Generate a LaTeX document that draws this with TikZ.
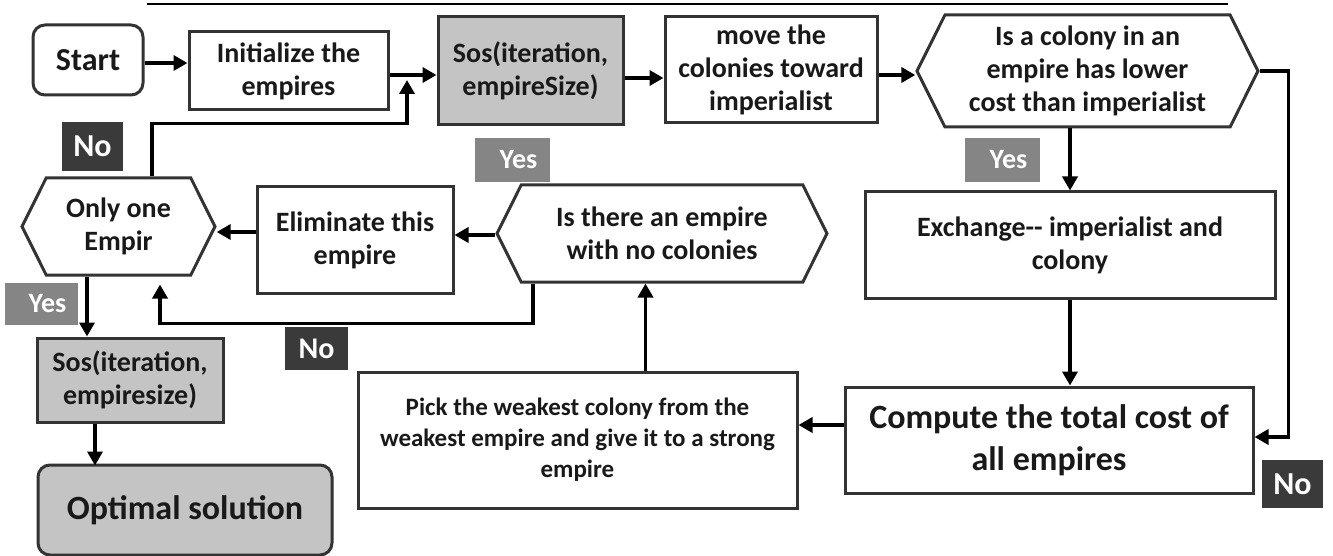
\documentclass[tikz,border=0pt]{standalone}
\usepackage{fontspec}
\setmainfont{Carlito}
\usepackage{xcolor}
\usepackage{tikz}
\usetikzlibrary{shapes.symbols, positioning, arrows.meta, calc}

\definecolor{edgegray}{HTML}{333333}
\definecolor{boxgray}{HTML}{C4C4C4}
\definecolor{yesgray}{HTML}{858585}
\definecolor{nogray}{HTML}{3A3A3A}

\begin{document}
\begin{tikzpicture}[
    x=1pt, y=-1pt,
    box/.style={draw=edgegray, line width=3pt, rectangle, align=center, text=black!90,
        font=\bfseries\fontsize{28}{33}\selectfont, inner sep=2pt},
    grey/.style={box, fill=boxgray},
    term/.style={box, rounded corners=12pt},
    test/.style={box, shape=signal, signal to=west and east, signal pointer angle=127},
    tag/.style={rectangle, text=white, font=\bfseries\fontsize{28}{30}\selectfont, inner sep=0pt},
    flow/.style={draw=black, line width=3.5pt, -{Triangle[length=14pt, width=15pt]}}
]
    \useasboundingbox (0,0) rectangle (1333,556);
    \draw[line width=2pt] (147,4) -- (1228,4);

    % Top row
    \node[term, minimum width=110, minimum height=70, font=\bfseries\fontsize{32}{36}\selectfont] (start) at (88,60) {Start};
    \node[box, minimum width=199, minimum height=78] (init) at (288.5,71) {Initialize the\\empires};
    \node[grey, minimum width=185, minimum height=108] (sos) at (530.5,71) {Sos(iteration,\\empireSize)};
    \node[box, minimum width=212, minimum height=106] (move) at (771,70) {move the\\colonies toward\\imperialist};
    \node[test, minimum width=341, minimum height=112] (lower) at (1087.5,71) {Is a colony in an\\empire has lower\\cost than imperialist};

    % Right column
    \node[box, minimum width=410, minimum height=106] (swap) at (1070,245) {Exchange-{}- imperialist and\\colony};
    \node[box, minimum width=408, minimum height=106, font=\bfseries\fontsize{34}{42}\selectfont] (cost) at (1049,440) {Compute the total cost of\\all empires};

    % Middle row
    \node[box, minimum width=439, minimum height=136, font=\bfseries\fontsize{25}{31}\selectfont] (pick) at (577.5,440) {Pick the weakest colony from the\\weakest empire and give it to a strong\\empire};
    \node[test, minimum width=330, minimum height=97] (empty) at (662,233.5) {Is there an empire\\with no colonies};
    \node[box, minimum width=196, minimum height=106] (drop) at (355,240) {Eliminate this\\empire};
    \node[test, minimum width=193, minimum height=97] (single) at (118.5,226.5) {Only one\\Empir};

    % Left column
    \node[grey, minimum width=186, minimum height=84] (sosend) at (130,380) {Sos(iteration,\\empiresize)};
    \node[term, fill=boxgray, minimum width=294, minimum height=90, font=\bfseries\fontsize{34}{38}\selectfont] (best) at (185,510) {Optimal solution};

    % Yes / No tags
    \node[tag, fill=nogray, minimum width=61, minimum height=49, font=\bfseries\fontsize{32}{34}\selectfont] (notop) at (92.5,146.5) {No};
    \node[tag, fill=yesgray, minimum width=75, minimum height=44] (yesmid) at (512.5,160) {\hspace*{12pt}Yes};
    \node[tag, fill=yesgray, minimum width=75, minimum height=44] (yesright) at (1002.5,160) {\hspace*{12pt}Yes};
    \node[tag, fill=nogray, minimum width=61, minimum height=48, font=\bfseries\fontsize{32}{34}\selectfont] (noright) at (1292.5,484) {No};
    \node[tag, fill=nogray, minimum width=63, minimum height=43, font=\bfseries\fontsize{30}{34}\selectfont] (nomid) at (316.5,348.5) {No};
    \node[tag, fill=yesgray, minimum width=73, minimum height=42] (yesleft) at (41.5,304) {\hspace*{12pt}Yes};

    \coordinate (join) at (407,80);

    % Connectors
    \draw[flow] ([yshift=-3pt]start.east) -- ([yshift=-3pt]start.east -| init.west);
    \draw[flow] ([yshift=-4pt]init.east) -- ([yshift=-4pt]init.east -| sos.west);
    \draw[flow] ([yshift=-7pt]sos.east) -- ([yshift=-7pt]sos.east -| move.west);
    \draw[flow] ([yshift=-5pt]move.east) -- ([yshift=-5pt]move.east -| lower.west);
    \draw[flow] (swap.north |- lower.south) -- (swap.north);
    \draw[flow] (lower.east) -- ++(29,0) |- ([yshift=3pt]cost.east);
    \draw[flow] (swap.south) -- (swap.south |- cost.north);
    \draw[flow] ([yshift=15pt]cost.west) -- ([yshift=15pt]cost.west -| pick.east);
    \draw[flow] ([xshift=68pt]pick.north) -- ([xshift=68pt]pick.north |- empty.south);
    \draw[flow] ([yshift=-1.5pt]empty.west) -- ([yshift=-1.5pt]empty.west -| drop.east);
    \draw[flow] ([yshift=8pt]drop.west) -- ([yshift=8pt]drop.west -| single.east);
    \draw[flow] ([xshift=-129pt]empty.south) -- ++(0,40) -| ([xshift=41.5pt,yshift=-8pt]single.south);
    \draw[flow] ([xshift=33.5pt]single.north) -- ++(0,-53) -| (join);
    \draw[flow] ([xshift=-31.5pt]single.south) -- ([xshift=-31.5pt]single.south |- sosend.north);
    \draw[flow] ([xshift=-35pt]sosend.south) -- ([xshift=-35pt,yshift=-2pt]sosend.south |- best.north);
\end{tikzpicture}
\end{document}
